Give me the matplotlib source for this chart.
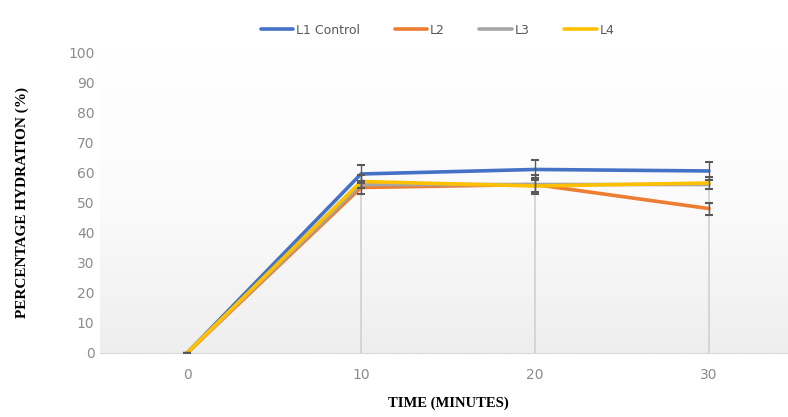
import numpy as np
import matplotlib.pyplot as plt
from matplotlib.colors import LinearSegmentedColormap

# data
time_min = [0, 10, 20, 30]
l1_control = [0, 59.5, 61, 60.5]
l2 = [0, 55, 56, 48]
l3 = [0, 56, 56, 56]
l4 = [0, 57, 55.5, 56.5]

l1_err = [0, 3, 3, 3]
l2_err = [0, 2, 3, 2]
l3_err_up = [0, 2, 2, 2]
l4_err = [0, 2, 2, 2]

series_names = ["L1 Control", "L2", "L3", "L4"]
colors = ["#4472C4", "#ED7D31", "#A5A5A5", "#FFC000"]

fig = plt.figure(figsize=(7.88, 4.17), dpi=100)
ax = fig.add_axes([0.127, 0.1535, 0.883, 0.7215])

x = np.arange(len(time_min))

# gradient background, white at top to light grey at bottom
grad = np.linspace(0, 1, 256).reshape(-1, 1)
cmap = LinearSegmentedColormap.from_list("bg", ["#ffffff", "#fbfbfb", "#eeeeee"])
ax.imshow(grad, aspect="auto", cmap=cmap, extent=[-0.5, 3.5, 0, 100],
          zorder=0, origin="upper")

err_kw = dict(ecolor="#595959", elinewidth=1.0, capsize=3, capthick=1.5)

# L3 error bars run down to zero (the faint vertical lines)
ax.errorbar(x, l3, yerr=[l3, l3_err_up], fmt="none", ecolor="#d0d0d0",
            elinewidth=1.2, capsize=0, zorder=1)

data = [l1_control, l2, l3, l4]
errs = [l1_err, l2_err, None, l4_err]
for vals, err, name, c in zip(data, errs, series_names, colors):
    ax.plot(x, vals, color=c, lw=2.6, label=name, zorder=3,
            solid_capstyle="round")
    if err is not None:
        ax.errorbar(x, vals, yerr=err, fmt="none", zorder=4, **err_kw)

ax.set_xlim(-0.5, 3.5)
ax.set_ylim(0, 100)
ax.set_xticks(x)
ax.set_xticklabels([str(t) for t in time_min])
ax.set_yticks(np.arange(0, 101, 10))

for side in ["top", "right", "left"]:
    ax.spines[side].set_visible(False)
ax.spines["bottom"].set_color("#d9d9d9")
ax.tick_params(axis="both", length=0, colors="#8c8c8c", labelsize=10)
ax.tick_params(axis="x", pad=11)
ax.tick_params(axis="y", pad=4)

ax.set_xlabel("TIME (MINUTES)", fontfamily="Liberation Serif",
              fontweight="bold", fontsize=10.5, labelpad=10)
ax.set_ylabel("PERCENTAGE HYDRATION (%)", fontfamily="Liberation Serif",
              fontweight="bold", fontsize=11, labelpad=28)

leg = fig.legend(loc="upper center", bbox_to_anchor=(0.555, 0.97), ncol=4,
                 frameon=False, fontsize=9, handlelength=2.6,
                 columnspacing=2.8, handletextpad=0.2)
for t in leg.get_texts():
    t.set_color("#595959")

fig.savefig("out.png", dpi=100)
